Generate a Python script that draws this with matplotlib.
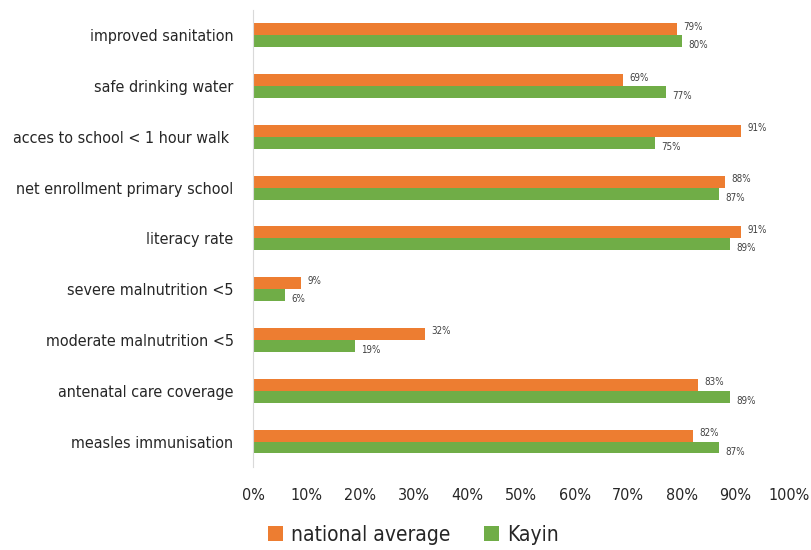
import matplotlib.pyplot as plt
import numpy as np

# indicators, national average vs Kayin state (percent)
categories = ['improved sanitation', 'safe drinking water', 'acces to school < 1 hour walk ',
              'net enrollment primary school', 'literacy rate', 'severe malnutrition <5',
              'moderate malnutrition <5', 'antenatal care coverage', 'measles immunisation']
national = [79, 69, 91, 88, 91, 9, 32, 83, 82]
kayin = [80, 77, 75, 87, 89, 6, 19, 89, 87]
ticks = [0, 10, 20, 30, 40, 50, 60, 70, 80, 90, 100]

plt.rcParams['font.family'] = ['DejaVu Sans']
plt.rcParams['font.stretch'] = 'condensed'

fig = plt.figure(figsize=(8.11, 5.5), dpi=100)
ax = fig.add_axes([0.312, 0.151, 0.661, 0.831])

y = np.arange(len(categories))
h = 0.235
b1 = ax.barh(y - h / 2, national, height=h, color='#ED7D31', label='national average')
b2 = ax.barh(y + h / 2, kayin, height=h, color='#70AD47', label='Kayin')

for bars, dy in ((b1, -0.05), (b2, 0.08)):
    for bar in bars:
        v = bar.get_width()
        ax.text(v + 1.2, bar.get_y() + bar.get_height() / 2 + dy, f'{v:.0f}%',
                fontsize=7, color='#404040', va='center', ha='left')

ax.set_ylim(len(categories) - 0.5, -0.5)
ax.set_xlim(0, 100)
ax.set_yticks(y)
ax.set_yticklabels(categories, fontsize=11.5, color='#262626')
ax.set_xticks(ticks)
ax.set_xticklabels([f'{t}%' for t in ticks], fontsize=11.5, color='#262626')
ax.tick_params(length=0)
ax.tick_params(axis='x', pad=15)
ax.tick_params(axis='y', pad=14)

for s in ['top', 'right', 'bottom']:
    ax.spines[s].set_visible(False)
ax.spines['left'].set_color('#d9d9d9')

fig.legend(loc='lower center', bbox_to_anchor=(0.51, -0.025), ncol=2, frameon=False,
           fontsize=15, handlelength=0.7, handleheight=0.7, handletextpad=0.4,
           columnspacing=1.6, labelcolor='#262626')

fig.savefig('out.png', dpi=100)
